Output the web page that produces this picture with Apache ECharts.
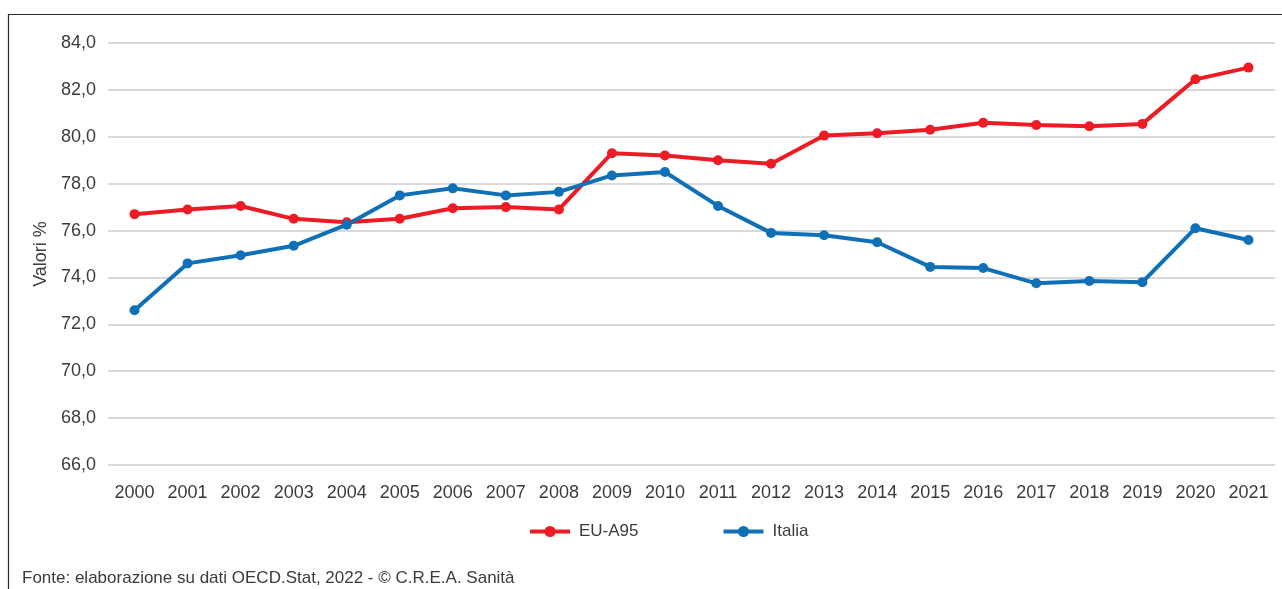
<!DOCTYPE html>
<html>
<head>
<meta charset="utf-8">
<script src="https://cdn.jsdelivr.net/npm/echarts@6/dist/echarts.min.js"></script>
<style>
html,body{margin:0;padding:0;background:#fff;}
#chart{width:1282px;height:589px;}
</style>
</head>
<body>
<div id="chart"></div>
<script>
const years = ['2000','2001','2002','2003','2004','2005','2006','2007','2008','2009','2010','2011','2012','2013','2014','2015','2016','2017','2018','2019','2020','2021'];
const euA95 = [76.7,76.9,77.05,76.5,76.35,76.5,76.95,77.0,76.9,79.3,79.2,79.0,78.85,80.05,80.15,80.3,80.6,80.5,80.45,80.55,82.45,82.95];
const italia = [72.6,74.6,74.95,75.35,76.25,77.5,77.8,77.5,77.65,78.35,78.5,77.05,75.9,75.8,75.5,74.45,74.4,73.75,73.85,73.8,76.1,75.6];
const seriesNames = ['EU-A95','Italia'];
const yTicks = {min:66, max:84, interval:2};
const axisTitle = 'Valori %';
const footnote = 'Fonte: elaborazione su dati OECD.Stat, 2022 - © C.R.E.A. Sanità';

const FONT = '"Liberation Sans Narrow", "Liberation Sans", Arial, sans-serif';
const TXT = '#3b3b3b';
const RED = '#ED1C24';
const BLUE = '#0F70B7';

const chart = echarts.init(document.getElementById('chart'), null, {renderer:'canvas'});
chart.setOption({
  animation:false,
  backgroundColor:'#ffffff',
  textStyle:{fontFamily:FONT, color:TXT},
  grid:{left:108, right:7, top:43, bottom:124, containLabel:false},
  legend:{
    data:seriesNames,
    left:528, top:523, padding:0,
    itemWidth:40, itemHeight:14, itemGap:83,
    lineStyle:{width:4},
    textStyle:{fontFamily:FONT, fontSize:17, color:TXT, padding:[0,0,0,4]}
  },
  xAxis:{
    type:'category', data:years, boundaryGap:true,
    axisLine:{show:false}, axisTick:{show:false},
    axisLabel:{fontFamily:FONT, fontSize:18, color:TXT, margin:19, interval:0}
  },
  yAxis:{
    type:'value', min:yTicks.min, max:yTicks.max, interval:yTicks.interval,
    name:axisTitle, nameLocation:'middle', nameGap:56, nameRotate:90,
    nameTextStyle:{fontFamily:FONT, fontSize:18, color:TXT},
    axisLine:{show:false}, axisTick:{show:false},
    axisLabel:{fontFamily:FONT, fontSize:18, color:TXT, margin:12,
      formatter:v=>v.toFixed(1).replace('.',',')},
    splitLine:{lineStyle:{color:'#d9d9d9', width:2}}
  },
  series:[
    {name:seriesNames[0], type:'line', data:euA95, color:RED,
     symbol:'circle', symbolSize:10, lineStyle:{width:4, color:RED}, itemStyle:{color:RED}},
    {name:seriesNames[1], type:'line', data:italia, color:BLUE,
     symbol:'circle', symbolSize:10, lineStyle:{width:4, color:BLUE}, itemStyle:{color:BLUE}}
  ],
  graphic:[
    {type:'rect', shape:{x:8.5, y:14.5, width:1300, height:620},
     style:{fill:null, stroke:'#2b2b2b', lineWidth:1.2}, silent:true},
    {type:'text', left:22, top:570,
     style:{text:footnote, font:'17px ' + FONT, fill:TXT}}
  ]
});
</script>
</body>
</html>
